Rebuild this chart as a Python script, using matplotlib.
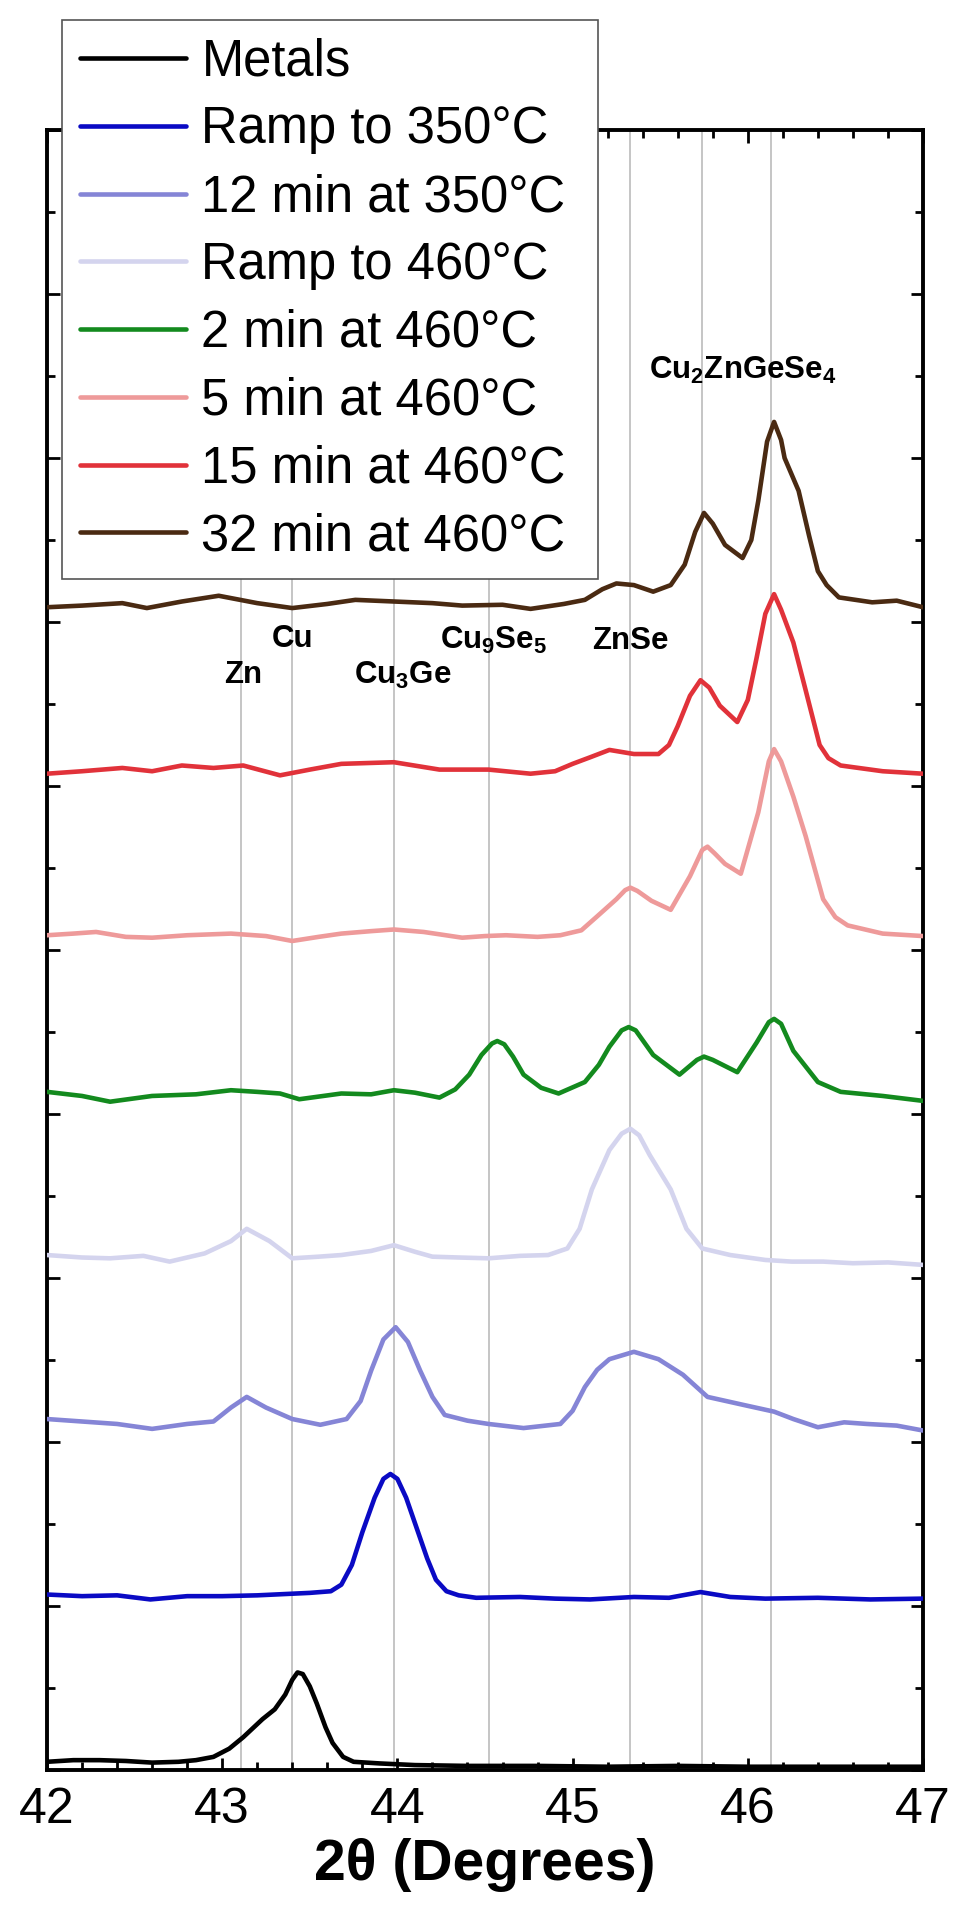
import matplotlib
matplotlib.use("Agg")
import matplotlib.pyplot as plt
from matplotlib.ticker import MultipleLocator

plt.rcParams["font.family"] = ["Liberation Sans", "DejaVu Sans"]
plt.rcParams["mathtext.fontset"] = "custom"
plt.rcParams["mathtext.rm"] = "Liberation Sans:bold"
plt.rcParams["mathtext.bf"] = "Liberation Sans:bold"

# 2theta positions and offset intensities (one y unit = one tick step)
metals_x = [42.0, 42.15, 42.3, 42.45, 42.6, 42.75, 42.85, 42.95, 43.04, 43.12, 43.23, 43.3, 43.36, 43.4,
            43.43, 43.46, 43.5, 43.54, 43.59, 43.63, 43.69, 43.75, 43.9, 44.1, 44.4, 44.8, 45.2, 45.6,
            46.0, 46.5, 47.0]
metals_y = [0.10, 0.12, 0.12, 0.11, 0.09, 0.10, 0.12, 0.16, 0.26, 0.40, 0.62, 0.74, 0.92, 1.10,
            1.19, 1.17, 1.02, 0.81, 0.52, 0.33, 0.16, 0.10, 0.08, 0.06, 0.05, 0.05, 0.04, 0.05,
            0.04, 0.04, 0.04]

ramp350_x = [42.0, 42.2, 42.4, 42.59, 42.8, 43.0, 43.2, 43.5, 43.62, 43.68, 43.74, 43.8, 43.87, 43.92,
             43.96, 44.0, 44.05, 44.11, 44.17, 44.22, 44.28, 44.35, 44.45, 44.7, 44.9, 45.1, 45.35,
             45.55, 45.73, 45.9, 46.1, 46.4, 46.7, 47.0]
ramp350_y = [2.14, 2.12, 2.13, 2.08, 2.12, 2.12, 2.13, 2.16, 2.18, 2.26, 2.50, 2.90, 3.32, 3.55,
             3.61, 3.55, 3.32, 2.95, 2.58, 2.32, 2.18, 2.13, 2.10, 2.11, 2.09, 2.08, 2.11,
             2.10, 2.17, 2.11, 2.09, 2.10, 2.08, 2.09]

hold350_x = [42.0, 42.2, 42.4, 42.6, 42.8, 42.95, 43.05, 43.14, 43.25, 43.4, 43.56, 43.71, 43.79, 43.85,
             43.92, 43.99, 44.06, 44.13, 44.2, 44.27, 44.4, 44.52, 44.72, 44.93, 45.0, 45.07, 45.14,
             45.21, 45.35, 45.49, 45.63, 45.77, 45.98, 46.15, 46.26, 46.4, 46.55, 46.68, 46.85, 47.0]
hold350_y = [4.28, 4.25, 4.22, 4.16, 4.22, 4.25, 4.42, 4.55, 4.42, 4.28, 4.21, 4.28, 4.50, 4.87,
             5.25, 5.40, 5.22, 4.87, 4.55, 4.33, 4.26, 4.22, 4.17, 4.22, 4.38, 4.67, 4.88,
             5.01, 5.10, 5.01, 4.82, 4.55, 4.45, 4.37, 4.28, 4.18, 4.24, 4.22, 4.20, 4.14]

ramp460_x = [42.0, 42.2, 42.36, 42.55, 42.7, 42.9, 43.05, 43.14, 43.27, 43.4, 43.55, 43.68, 43.85, 43.98,
             44.1, 44.2, 44.35, 44.52, 44.7, 44.86, 44.97, 45.04, 45.11, 45.21, 45.28, 45.33, 45.38,
             45.44, 45.56, 45.65, 45.74, 45.9, 46.1, 46.25, 46.43, 46.6, 46.8, 47.0]
ramp460_y = [6.28, 6.25, 6.24, 6.27, 6.20, 6.30, 6.45, 6.60, 6.45, 6.24, 6.26, 6.28, 6.33, 6.40,
             6.32, 6.26, 6.25, 6.24, 6.27, 6.28, 6.36, 6.60, 7.08, 7.56, 7.76, 7.82, 7.74,
             7.50, 7.08, 6.60, 6.36, 6.28, 6.22, 6.20, 6.20, 6.18, 6.19, 6.16]

hold2_x = [42.0, 42.2, 42.36, 42.6, 42.85, 43.05, 43.2, 43.33, 43.44, 43.68, 43.85, 43.98, 44.1, 44.24,
           44.33, 44.41, 44.48, 44.54, 44.57, 44.61, 44.66, 44.72, 44.82, 44.92, 45.07, 45.15, 45.21,
           45.28, 45.32, 45.36, 45.46, 45.61, 45.71, 45.75, 45.8, 45.94, 46.05, 46.12, 46.15, 46.19,
           46.26, 46.4, 46.53, 46.77, 47.0]
hold2_y = [8.27, 8.22, 8.15, 8.22, 8.24, 8.29, 8.27, 8.25, 8.18, 8.25, 8.24, 8.29, 8.26, 8.20,
           8.30, 8.48, 8.72, 8.86, 8.89, 8.85, 8.70, 8.48, 8.32, 8.25, 8.39, 8.60, 8.82,
           9.02, 9.06, 9.02, 8.72, 8.48, 8.66, 8.70, 8.66, 8.51, 8.87, 9.12, 9.16, 9.10,
           8.77, 8.39, 8.27, 8.22, 8.16]

hold5_x = [42.0, 42.15, 42.28, 42.45, 42.6, 42.8, 43.05, 43.25, 43.4, 43.55, 43.68, 43.85, 43.98, 44.15,
           44.37, 44.5, 44.62, 44.8, 44.93, 45.05, 45.14, 45.25, 45.3, 45.33, 45.37, 45.45, 45.56,
           45.67, 45.74, 45.77, 45.81, 45.87, 45.96, 46.06, 46.12, 46.15, 46.19, 46.26, 46.33, 46.43,
           46.5, 46.57, 46.77, 47.0]
hold5_y = [10.18, 10.20, 10.22, 10.16, 10.15, 10.18, 10.20, 10.17, 10.11, 10.16, 10.20, 10.23, 10.25, 10.22,
           10.15, 10.17, 10.18, 10.16, 10.18, 10.24, 10.41, 10.62, 10.73, 10.76, 10.72, 10.60, 10.49,
           10.90, 11.22, 11.26, 11.18, 11.05, 10.93, 11.68, 12.30, 12.45, 12.30, 11.87, 11.39, 10.62,
           10.40, 10.30, 10.20, 10.17]

hold15_x = [42.0, 42.2, 42.43, 42.6, 42.77, 42.95, 43.12, 43.33, 43.5, 43.68, 43.98, 44.24, 44.52, 44.76,
            44.9, 45.0, 45.1, 45.21, 45.35, 45.49, 45.55, 45.6, 45.67, 45.73, 45.78, 45.84, 45.94,
            46.0, 46.05, 46.1, 46.15, 46.19, 46.26, 46.33, 46.41, 46.46, 46.53, 46.77, 47.0]
hold15_y = [12.15, 12.18, 12.22, 12.18, 12.25, 12.22, 12.25, 12.13, 12.20, 12.27, 12.29, 12.20, 12.20, 12.15,
            12.18, 12.27, 12.35, 12.44, 12.39, 12.39, 12.50, 12.73, 13.10, 13.29, 13.20, 12.98, 12.78,
            13.05, 13.56, 14.10, 14.34, 14.15, 13.75, 13.17, 12.50, 12.34, 12.25, 12.18, 12.15]

hold32_x = [42.0, 42.2, 42.43, 42.57, 42.77, 42.98, 43.2, 43.4, 43.6, 43.76, 43.98, 44.2, 44.37, 44.6,
            44.76, 44.95, 45.07, 45.17, 45.25, 45.35, 45.46, 45.56, 45.64, 45.7, 45.75, 45.8, 45.87,
            45.97, 46.02, 46.06, 46.11, 46.15, 46.19, 46.21, 46.29, 46.35, 46.4, 46.45, 46.52, 46.71,
            46.85, 47.0]
hold32_y = [14.18, 14.20, 14.23, 14.17, 14.25, 14.32, 14.23, 14.17, 14.22, 14.27, 14.25, 14.23, 14.20, 14.21,
            14.16, 14.22, 14.27, 14.40, 14.47, 14.45, 14.37, 14.45, 14.70, 15.10, 15.33, 15.20, 14.94,
            14.78, 15.00, 15.48, 16.20, 16.44, 16.22, 16.00, 15.60, 15.05, 14.62, 14.45, 14.30, 14.24,
            14.26, 14.18]

labels = ["Metals", "Ramp to 350°C", "12 min at 350°C", "Ramp to 460°C",
          "2 min at 460°C", "5 min at 460°C", "15 min at 460°C", "32 min at 460°C"]
colors = ["#000000", "#0a0ac4", "#8585d6", "#d4d4ee", "#138a1e", "#ee9a9a", "#e1323a", "#4a2a12"]

# reference peak positions
ref_lines = [43.11, 43.40, 43.98, 44.52, 45.33, 45.74, 46.13]
phase_names = ["Zn", "Cu", "Cu$_3$Ge", "Cu$_9$Se$_5$", "ZnSe", "Cu$_2$ZnGeSe$_4$"]
phase_x = [43.12, 43.40, 44.03, 44.55, 45.33, 45.97]
phase_y = [13.35, 13.79, 13.35, 13.77, 13.77, 17.07]

series = [(metals_x, metals_y), (ramp350_x, ramp350_y), (hold350_x, hold350_y), (ramp460_x, ramp460_y),
          (hold2_x, hold2_y), (hold5_x, hold5_y), (hold15_x, hold15_y), (hold32_x, hold32_y)]

fig = plt.figure(figsize=(9.56, 19.13), dpi=100)
ax = fig.add_axes([47 / 956, 1 - 1770 / 1913, 876 / 956, 1640 / 1913])

for xv in ref_lines:
    ax.axvline(xv, color="#c0c0c0", lw=1.3, zorder=1)

for (xs, ys), lab, col in zip(series, labels, colors):
    ax.plot(xs, ys, color=col, lw=3.3, label=lab, solid_joinstyle="round", solid_capstyle="round", zorder=3)

for name, px, py in zip(phase_names, phase_x, phase_y):
    ax.text(px, py, name, ha="center", va="center", fontsize=22.5, fontweight="bold", zorder=4)

ax.set_xlim(42, 47)
ax.set_ylim(0, 20)
ax.xaxis.set_major_locator(MultipleLocator(1))
ax.xaxis.set_minor_locator(MultipleLocator(0.2))
ax.yaxis.set_major_locator(MultipleLocator(2))
ax.yaxis.set_minor_locator(MultipleLocator(1))
ax.tick_params(which="both", direction="in", top=True, right=True, width=2)
ax.tick_params(which="major", length=9, labelsize=36, pad=12)
ax.tick_params(which="minor", length=5.5)
ax.tick_params(axis="y", labelleft=False)
for sp in ax.spines.values():
    sp.set_linewidth(2.8)

ax.set_xlabel("2θ (Degrees)", fontsize=41, fontweight="bold", labelpad=4)

leg = fig.legend(loc="upper left", bbox_to_anchor=(62 / 956, 1 - 574 / 1913, 536 / 956, 554 / 1913),
                 mode="expand", fontsize=36.5, frameon=True, fancybox=False, edgecolor="#555555",
                 framealpha=1, handlelength=2.1, handletextpad=0.3, labelspacing=0.37, borderpad=0.35,
                 borderaxespad=0)
leg.get_frame().set_linewidth(1.2)

fig.savefig("out.png", dpi=100)
